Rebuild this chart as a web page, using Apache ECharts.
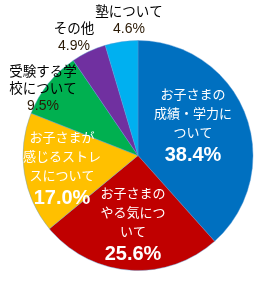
<!DOCTYPE html>
<html>
<head>
<meta charset="utf-8">
<script src="https://cdn.jsdelivr.net/npm/echarts@6/dist/echarts.min.js"></script>
<style>
    html, body { margin: 0; padding: 0; background: #fff; }
    #chart { width: 260px; height: 282px; }
</style>
</head>
<body>
<div id="chart"></div>
<script>
    // 悩みの内容 (clockwise from 12 o'clock)
    let categories = ['お子さまの\n成績・学力に\nついて', 'お子さまの\nやる気につ\nいて', 'お子さまが\n感じるストレ\nスについて',
        '受験する学\n校について', 'その他', '塾について'];
    let shares = [38.4, 25.6, 17.0, 9.5, 4.9, 4.6];
    let sliceColors = ['#0070C0', '#C00000', '#FFC000', '#00B050', '#7030A0', '#00B0F0'];

    // which labels sit on the slice (white) vs. outside (black)
    let insideLabel = [true, true, true, false, false, false];
    // label centres, px
    let labelSpots = [[193, 127], [133, 226], [62, 170], [43, 89], [74, 38], [129, 21]];

    let jpFont = '"Noto Sans CJK JP", "Noto Sans", sans-serif';

    function buildLabel(name, value, inside) {
        let n = inside ? 'n' : 'no';
        let p = inside ? 'p' : 'po';
        let lines = name.split('\n').map(function (l) { return '{' + n + '|' + l + '}'; });
        lines.push('{' + p + '|' + value.toFixed(1) + '%}');
        return lines.join('\n');
    }

    let chart = echarts.init(document.getElementById('chart'));
    let data = [];
    for (let i = 0, len = shares.length; i < len; i++) {
        data.push({
            name: categories[i],
            value: shares[i],
            itemStyle: { color: sliceColors[i] }
        });
    }
    let option = {
        animation: false,
        series: [
            {
                type: 'pie',
                center: [138, 155.5],
                radius: [0, 115],
                startAngle: 90,
                clockwise: true,
                avoidLabelOverlap: false,
                itemStyle: {
                    borderColor: 'rgba(91,155,213,0.7)',
                    borderWidth: 0.6
                },
                labelLine: { show: false },
                label: {
                    show: true,
                    position: 'inside',
                    formatter: function (params) {
                        let i = params.dataIndex;
                        return buildLabel(params.name, params.value, insideLabel[i]);
                    },
                    rich: {
                        n: { color: '#fff', fontSize: 13, fontFamily: jpFont, lineHeight: 19, align: 'center' },
                        p: { color: '#fff', fontSize: 20, fontWeight: 'bold', fontFamily: 'Liberation Sans, Arial, sans-serif', lineHeight: 28, align: 'center' },
                        no: { color: '#000', fontSize: 13.5, fontFamily: jpFont, lineHeight: 17, align: 'center' },
                        po: { color: '#2b1a05', fontSize: 14, fontFamily: 'Liberation Sans, Arial, sans-serif', lineHeight: 20, align: 'center' }
                    }
                },
                labelLayout: function (params) {
                    let s = labelSpots[params.dataIndex];
                    return {
                        x: s[0],
                        y: s[1],
                        align: 'center',
                        verticalAlign: 'middle'
                    };
                },
                data: data
            }
        ]
    };
    chart.setOption(option);
</script>
</body>
</html>
